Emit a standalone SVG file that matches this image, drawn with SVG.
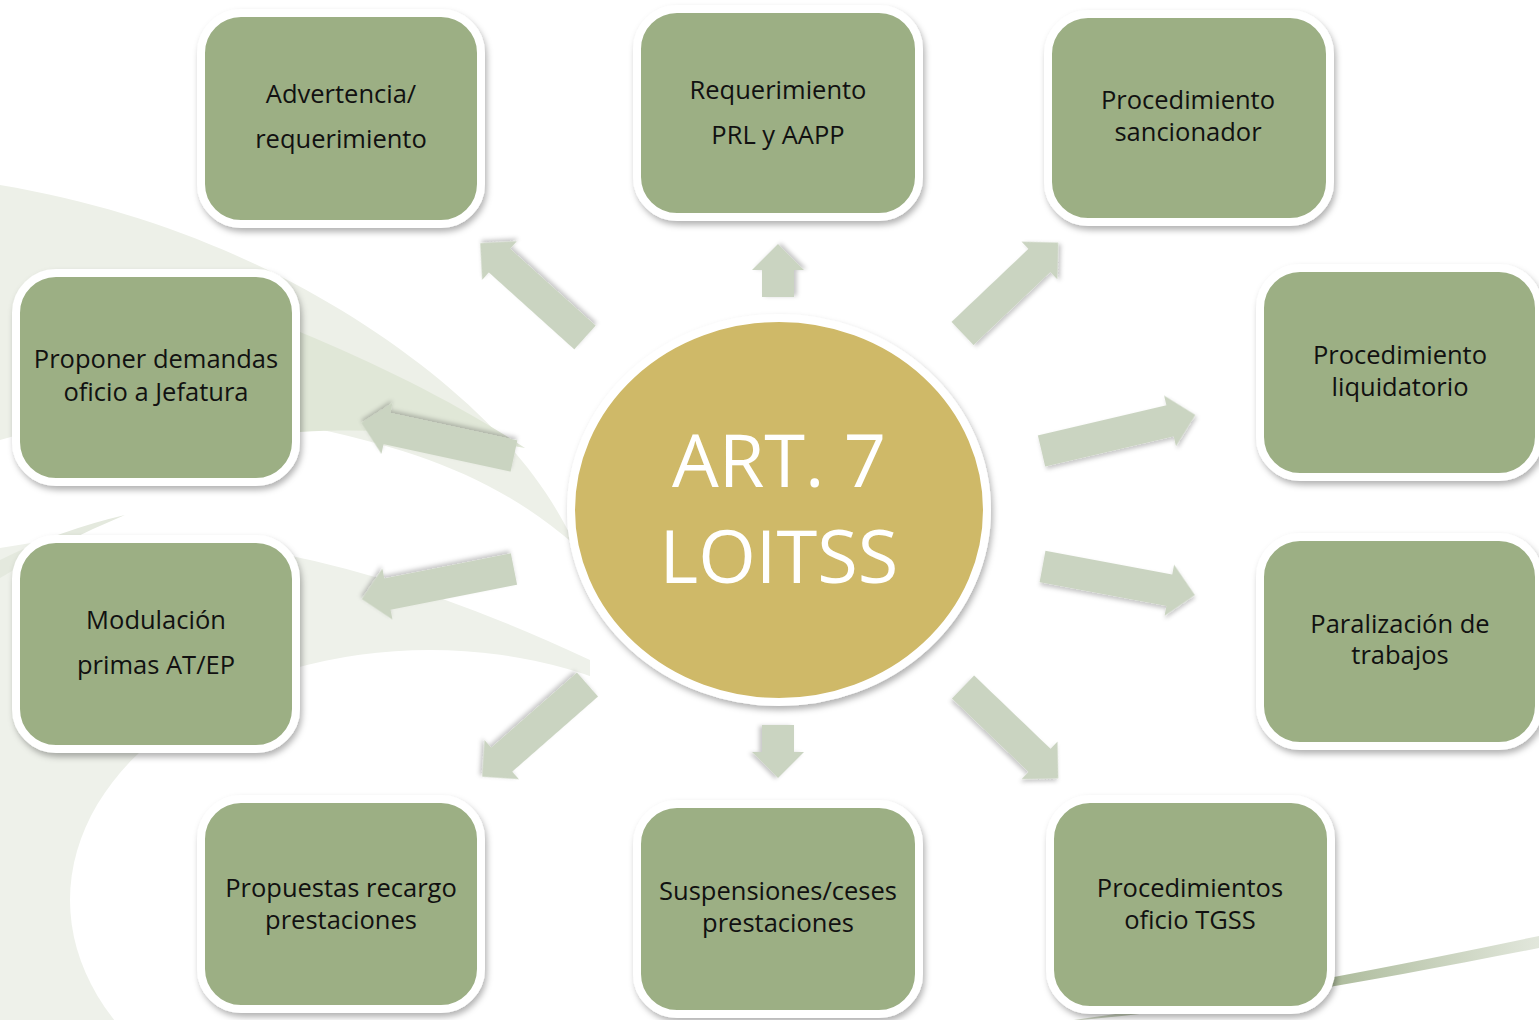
<svg xmlns="http://www.w3.org/2000/svg" width="1539" height="1020" viewBox="0 0 1539 1020">
<defs>
<style>
.node rect{fill:#9caf84;stroke:#ffffff;stroke-width:8;filter:url(#sh)}
.node text{font-family:"Open Sans","Noto Sans",sans-serif;font-size:25.5px;fill:#111;text-anchor:middle}
.arr polygon{fill:#cad4c1;filter:url(#ash)}
.center text{font-family:"Open Sans","Noto Sans",sans-serif;font-size:74px;fill:#ffffff;text-anchor:middle}
</style>
<filter id="sh" x="-20%" y="-20%" width="140%" height="140%">
<feDropShadow dx="2" dy="4" stdDeviation="3" flood-color="#000" flood-opacity="0.3"/>
</filter>
<filter id="ash" x="-20%" y="-30%" width="140%" height="160%">
<feDropShadow dx="1" dy="3" stdDeviation="2" flood-color="#000" flood-opacity="0.22"/>
</filter>
<linearGradient id="sw" x1="1060" y1="0" x2="1539" y2="0" gradientUnits="userSpaceOnUse">
<stop offset="0" stop-color="#d3d9cb"/>
<stop offset="0.45" stop-color="#9fb08b"/>
<stop offset="1" stop-color="#e2e7dc"/>
</linearGradient>
</defs>
<rect width="1539" height="1020" fill="#ffffff"/>
<g id="background">
<path d="M0,185 C180,215 330,290 440,380 C500,430 545,480 575,545 C500,480 420,450 300,425 C200,405 100,410 0,440 Z" fill="#edf0e8"/>
<path d="M300,332 C380,365 460,405 525,448 C440,432 370,428 300,432 Z" fill="#e0e7d7"/>
<path d="M0,548 Q250,500 590,660 L590,1020 L0,1020 Z" fill="#eef1ea"/>
<ellipse cx="430" cy="900" rx="360" ry="250" fill="#ffffff"/>
<path d="M0,560 Q60,530 125,515 Q60,542 0,578 Z" fill="#e4e9de"/>
<path d="M1060,1022 C1250,995 1400,965 1539,936 L1539,948 C1400,975 1250,1005 1060,1022 Z" fill="url(#sw)"/>
</g>
<g id="connectors" class="arr">
<polygon transform="translate(585,337.5) rotate(-138)" points="0,-16 115,-16 115,-26 141,0 115,26 115,16 0,16"/>
<polygon transform="translate(778,297) rotate(-90)" points="0,-16 27,-16 27,-26 53,0 27,26 27,16 0,16"/>
<polygon transform="translate(962.5,333.5) rotate(-43.5)" points="0,-16 106,-16 106,-26 132,0 106,26 106,16 0,16"/>
<polygon transform="translate(1041.5,451) rotate(-13.2)" points="0,-16 132,-16 132,-26 158,0 132,26 132,16 0,16"/>
<polygon transform="translate(1042.5,566.5) rotate(10.6)" points="0,-16 129,-16 129,-26 155,0 129,26 129,16 0,16"/>
<polygon transform="translate(963,687) rotate(43.8)" points="0,-16 106,-16 106,-26 132,0 106,26 106,16 0,16"/>
<polygon transform="translate(778,725) rotate(90)" points="0,-16 27,-16 27,-26 53,0 27,26 27,16 0,16"/>
<polygon transform="translate(587.5,684.5) rotate(138.8)" points="0,-16 114,-16 114,-26 140,0 114,26 114,16 0,16"/>
<polygon transform="translate(514,569) rotate(168.8)" points="0,-16 129,-16 129,-26 155,0 129,26 129,16 0,16"/>
<polygon transform="translate(514,456) rotate(-167.8)" points="0,-16 130,-16 130,-26 156,0 130,26 130,16 0,16"/>
</g>
<g id="center" class="center">
<ellipse cx="779" cy="510" rx="208" ry="192" fill="#cfb968" stroke="#ffffff" stroke-width="8" filter="url(#sh)"/>
<text x="779" y="487">ART. 7</text>
<text x="779" y="583">LOITSS</text>
</g>
<g id="n1" class="node"><rect x="201" y="13" width="280" height="211" rx="40"/><text x="341" y="103">Advertencia/</text><text x="341" y="148">requerimiento</text></g>
<g id="n2" class="node"><rect x="637" y="9" width="282" height="208" rx="40"/><text x="778" y="99">Requerimiento</text><text x="778" y="144">PRL y AAPP</text></g>
<g id="n3" class="node"><rect x="1048" y="14" width="282" height="208" rx="40"/><text x="1188" y="109">Procedimiento</text><text x="1188" y="141">sancionador</text></g>
<g id="n4" class="node"><rect x="1260" y="268" width="279" height="209" rx="40"/><text x="1400" y="364">Procedimiento</text><text x="1400" y="396">liquidatorio</text></g>
<g id="n5" class="node"><rect x="1260" y="537" width="279" height="209" rx="40"/><text x="1400" y="633">Paralización de</text><text x="1400" y="664">trabajos</text></g>
<g id="n6" class="node"><rect x="1050" y="799" width="281" height="211" rx="40"/><text x="1190" y="897">Procedimientos</text><text x="1190" y="929">oficio TGSS</text></g>
<g id="n7" class="node"><rect x="637" y="804" width="282" height="210" rx="40"/><text x="778" y="900">Suspensiones/ceses</text><text x="778" y="932">prestaciones</text></g>
<g id="n8" class="node"><rect x="201" y="799" width="280" height="210" rx="40"/><text x="341" y="897">Propuestas recargo</text><text x="341" y="929">prestaciones</text></g>
<g id="n9" class="node"><rect x="16" y="539" width="280" height="210" rx="40"/><text x="156" y="629">Modulación</text><text x="156" y="674">primas AT/EP</text></g>
<g id="n10" class="node"><rect x="16" y="273" width="280" height="209" rx="40"/><text x="156" y="368">Proponer demandas</text><text x="156" y="401">oficio a Jefatura</text></g>
</svg>
